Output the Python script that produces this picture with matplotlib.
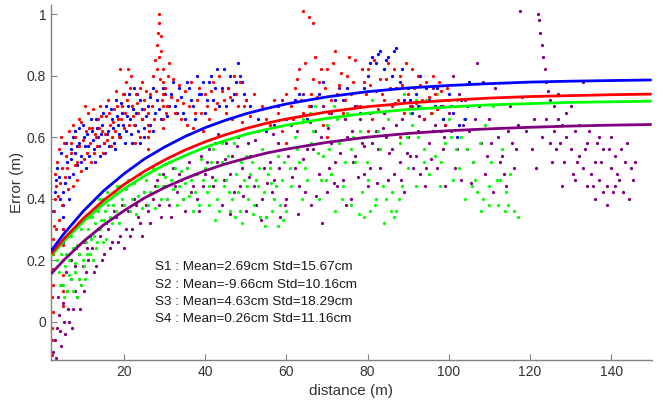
import matplotlib
matplotlib.use("Agg")
import matplotlib.pyplot as plt

# ---------------- data ----------------
curve_x = [2, 5, 10, 15, 20, 25, 30, 35, 40, 45, 50, 55, 60, 70, 80, 90, 100, 110, 120, 130, 140, 150]
fit_blue = [0.230, 0.283, 0.360, 0.426, 0.481, 0.529, 0.568, 0.602, 0.631, 0.655, 0.676, 0.693, 0.708, 0.731, 0.748, 0.760, 0.768, 0.774, 0.779, 0.782, 0.784, 0.786]
fit_red = [0.220, 0.267, 0.336, 0.395, 0.446, 0.489, 0.526, 0.558, 0.585, 0.608, 0.628, 0.645, 0.659, 0.682, 0.699, 0.711, 0.720, 0.727, 0.732, 0.735, 0.738, 0.740]
fit_green = [0.213, 0.259, 0.326, 0.383, 0.432, 0.474, 0.510, 0.540, 0.567, 0.589, 0.609, 0.625, 0.639, 0.661, 0.678, 0.690, 0.698, 0.705, 0.709, 0.713, 0.715, 0.717]
fit_purple = [0.155, 0.198, 0.261, 0.315, 0.361, 0.402, 0.436, 0.465, 0.491, 0.513, 0.531, 0.548, 0.561, 0.583, 0.600, 0.612, 0.621, 0.627, 0.632, 0.636, 0.639, 0.641]

red_pts = [
    (2.2, -0.11), (2.3, -0.06), (2.2, -0.02), (2.4, 0.03), (2.3, 0.08), (2.5, 0.12), (2.4, 0.17), (2.6, 0.22),
    (2.5, 0.27), (2.8, 0.31), (2.7, 0.36), (3.0, 0.40), (3.2, 0.44), (2.9, 0.48),
    (3.5, 0.52), (4.0, 0.33), (4.3, 0.45), (4.8, 0.38), (5.2, 0.58), (5.5, 0.47), (6.0, 0.50), (6.5, 0.62),
    (7.0, 0.55), (7.5, 0.44), (8.0, 0.60), (8.5, 0.52),
    (5.0, 0.05), (5.0, 0.10), (5.0, 0.15), (5.0, 0.20), (5.0, 0.25), (5.0, 0.30),
    (9, 0.57), (9.5, 0.65), (10, 0.53), (10.5, 0.62), (11, 0.68), (11.5, 0.58), (12, 0.63), (12.5, 0.55),
    (13, 0.60), (13.5, 0.66), (14, 0.70), (14.5, 0.62), (15, 0.58), (15.5, 0.67), (16, 0.72), (16.5, 0.64),
    (17, 0.60), (17.5, 0.69), (18, 0.75), (18.5, 0.66), (19, 0.82), (19.5, 0.70), (20, 0.63), (20.5, 0.78),
    (21, 0.82), (21.5, 0.76), (22, 0.70), (22.5, 0.64), (23, 0.74), (23.5, 0.68), (24, 0.60), (24.5, 0.78),
    (25, 0.72), (25.8, 0.56), (25.8, 0.60), (25.8, 0.64), (25.8, 0.68), (26.5, 0.74), (27, 0.80), (27.5, 0.85),
    (28, 0.90), (28.3, 0.94), (28.5, 0.97), (28.7, 1.00), (29.2, 0.88), (29.5, 0.82), (29.6, 0.78), (29.6, 0.74),
    (29.6, 0.70), (29.6, 0.66), (29.6, 0.63), (30, 0.76), (30.5, 0.70),
    (31, 0.84), (32, 0.79), (33, 0.72), (34, 0.66), (35, 0.75), (36, 0.70), (37, 0.63), (38, 0.72),
    (39, 0.68), (40, 0.74), (41, 0.66), (42, 0.78), (43, 0.71), (44, 0.75), (45, 0.68), (46, 0.73),
    (47, 0.80), (48, 0.70), (49, 0.65), (50, 0.72),
    (55, 0.66), (57, 0.72), (59, 0.62), (61, 0.70), (62, 0.76), (63, 0.82), (64, 1.01), (65.5, 0.99),
    (66.6, 0.97), (64, 0.68), (66, 0.74), (67, 0.86), (68, 0.78), (69, 0.64), (70, 0.82), (71, 0.72),
    (72, 0.88), (73, 0.77), (74, 0.68), (75, 0.80), (76, 0.74), (77, 0.85), (78, 0.70), (79, 0.78),
    (80, 0.82), (81, 0.66), (82, 0.75), (83, 0.79), (84, 0.72), (85, 0.84), (86, 0.70), (87, 0.76),
    (88, 0.80), (89, 0.68), (90, 0.74), (91, 0.82), (92, 0.71), (93, 0.77), (94, 0.66), (95, 0.73),
    (96, 0.80), (97, 0.69), (98, 0.75), (99, 0.64), (100, 0.72),
    (60, 0.58), (70, 0.60), (80, 0.62), (88, 0.60),
    (3.2, 0.30), (3.6, 0.41), (3.9, 0.56), (4.4, 0.60), (4.7, 0.50), (5.6, 0.54), (6.2, 0.43), (6.8, 0.58),
    (7.3, 0.64), (7.8, 0.51), (8.3, 0.46), (8.8, 0.66), (9.3, 0.49), (9.8, 0.59), (10.3, 0.70), (10.8, 0.55),
    (11.3, 0.63), (11.8, 0.52), (12.3, 0.69), (12.8, 0.61), (13.3, 0.57), (13.8, 0.63), (14.3, 0.67), (14.8, 0.55),
    (15.3, 0.61), (15.8, 0.59), (16.3, 0.68), (16.8, 0.57), (17.3, 0.65), (17.8, 0.62), (18.3, 0.70), (18.8, 0.60),
    (19.3, 0.66), (19.8, 0.74), (20.3, 0.68), (20.8, 0.72), (21.3, 0.64), (21.8, 0.80), (22.3, 0.67), (22.8, 0.58),
    (23.3, 0.71), (23.8, 0.76), (24.3, 0.66), (24.8, 0.69), (25.3, 0.75), (26.2, 0.62), (26.8, 0.70), (27.3, 0.66),
    (27.8, 0.75), (28.2, 0.82), (28.6, 0.86), (28.9, 0.79), (29.0, 0.93), (29.4, 0.72), (30.2, 0.68), (30.8, 0.80),
    (31.5, 0.73), (32.5, 0.68), (33.5, 0.77), (34.5, 0.71), (35.5, 0.64), (36.5, 0.78), (37.5, 0.68), (38.5, 0.76),
    (39.5, 0.62), (40.5, 0.70), (41.5, 0.75), (42.5, 0.69), (43.5, 0.80), (44.5, 0.72), (45.5, 0.76), (46.5, 0.66),
    (47.5, 0.74), (48.5, 0.78), (49.5, 0.70), (51, 0.67), (52, 0.74), (53, 0.62), (54, 0.70), (56, 0.64),
    (58, 0.68), (60, 0.74), (61.5, 0.66), (62.5, 0.79), (63.5, 0.72), (64.5, 0.84), (65.5, 0.70), (66.5, 0.79),
    (67.5, 0.73), (68.5, 0.82), (69.5, 0.76), (70.5, 0.68), (71.5, 0.84), (72.5, 0.74), (73.5, 0.81), (74.5, 0.72),
    (75.5, 0.86), (76.5, 0.78), (77.5, 0.70), (78.5, 0.82), (79.5, 0.74), (80.5, 0.77), (81.5, 0.85), (82.5, 0.69),
    (83.5, 0.74), (84.5, 0.79), (85.5, 0.76), (86.5, 0.82), (87.5, 0.72), (88.5, 0.77), (89.5, 0.84), (90.5, 0.70),
    (91.5, 0.76), (92.5, 0.80), (93.5, 0.72), (94.5, 0.78), (95.5, 0.68), (96.5, 0.74), (97.5, 0.78), (98.5, 0.70),
    (99.5, 0.76),
]

blue_pts = [
    (2.5, 0.36), (3, 0.42), (3.5, 0.50), (4, 0.47), (4.5, 0.55), (5, 0.26), (5, 0.30), (5, 0.34),
    (5, 0.38), (5, 0.42), (5.5, 0.45), (6, 0.52), (6.5, 0.40), (7, 0.56), (7.5, 0.48), (8, 0.62),
    (8.5, 0.51), (9, 0.58), (9.5, 0.54), (10, 0.60), (10.5, 0.50), (11, 0.57),
    (12, 0.62), (12.5, 0.56), (13, 0.66), (13.5, 0.60), (14, 0.54), (14.5, 0.64), (15, 0.58), (15.5, 0.70),
    (16, 0.62), (17, 0.66), (17.5, 0.58), (18, 0.72), (18.5, 0.64), (19, 0.60), (19.5, 0.68), (20, 0.74),
    (20.5, 0.62), (21, 0.70), (21.5, 0.66), (22, 0.58), (22.5, 0.76), (23, 0.68), (23.5, 0.62), (24, 0.72),
    (24.5, 0.66), (25, 0.60), (26, 0.70), (26.5, 0.64), (27, 0.76), (27.5, 0.68), (28, 0.72), (29, 0.66),
    (30, 0.74), (31, 0.70), (32, 0.78), (33, 0.68), (34, 0.73), (35, 0.66), (36, 0.76), (37, 0.70),
    (38, 0.80), (39, 0.74), (40, 0.68), (41, 0.78), (42, 0.72), (43, 0.82), (44, 0.76), (45, 0.70),
    (46, 0.80), (47, 0.74), (48, 0.84), (49, 0.78), (50, 0.72),
    (55, 0.62), (58, 0.70), (60, 0.66), (63, 0.74), (66, 0.70), (69, 0.78), (72, 0.72), (75, 0.76),
    (78, 0.68), (80, 0.80), (81, 0.86), (82, 0.84), (83, 0.88), (84, 0.82), (85, 0.86), (86, 0.80),
    (87, 0.89), (88, 0.78), (89, 0.72), (90, 0.76), (91, 0.68), (92, 0.74), (93, 0.80), (94, 0.66),
    (95, 0.72), (96, 0.62), (97, 0.76), (98, 0.70), (99, 0.64), (100, 0.74), (101, 0.68), (102, 0.60),
    (103, 0.72), (104, 0.66), (105, 0.78),
    (3.2, 0.46), (4.2, 0.40), (5.8, 0.58), (6.3, 0.47), (6.8, 0.53), (7.3, 0.60), (7.8, 0.55), (8.3, 0.57),
    (8.8, 0.63), (9.3, 0.52), (9.8, 0.64), (10.3, 0.57), (10.8, 0.61), (11.3, 0.54), (11.8, 0.66), (12.3, 0.59),
    (12.8, 0.52), (13.3, 0.63), (13.8, 0.57), (14.3, 0.61), (14.8, 0.68), (15.3, 0.55), (15.8, 0.61), (16.3, 0.57),
    (16.8, 0.69), (17.3, 0.63), (17.8, 0.56), (18.3, 0.67), (18.8, 0.61), (19.3, 0.71), (19.8, 0.64), (20.3, 0.58),
    (20.8, 0.67), (21.3, 0.74), (21.8, 0.61), (22.3, 0.69), (22.8, 0.64), (23.3, 0.74), (23.8, 0.58), (24.3, 0.69),
    (24.8, 0.63), (25.5, 0.67), (26.3, 0.73), (27.2, 0.62), (28.5, 0.69), (29.5, 0.76), (30.5, 0.67), (31.5, 0.74),
    (32.5, 0.70), (33.5, 0.76), (34.5, 0.68), (35.5, 0.78), (36.5, 0.72), (37.5, 0.66), (38.5, 0.74), (39.5, 0.78),
    (40.5, 0.72), (41.5, 0.80), (42.5, 0.76), (43.5, 0.70), (44.5, 0.82), (45.5, 0.76), (46.5, 0.72), (47.5, 0.78),
    (48.5, 0.80), (49.5, 0.74), (51, 0.70), (53, 0.66), (57, 0.64), (62, 0.72), (65, 0.66), (68, 0.74),
    (71, 0.68), (74, 0.72), (77, 0.70), (79, 0.76), (80.5, 0.84), (82.5, 0.87), (84.5, 0.85), (86.5, 0.88),
    (88.5, 0.82), (90.5, 0.72), (92.5, 0.70), (94.5, 0.76), (96.5, 0.70), (98.5, 0.66), (100.5, 0.70), (102.5, 0.64),
    (104.5, 0.70),
]

green_pts = [
    (4, 0.16), (4.5, 0.22), (5, 0.12), (5.5, 0.18), (6, 0.10), (6.5, 0.20), (7, 0.14), (7.5, 0.24),
    (8, 0.16), (8.5, 0.08), (9, 0.22), (9.5, 0.12), (10, 0.18), (10.5, 0.26), (11, 0.30), (11.5, 0.22),
    (12, 0.34), (12.5, 0.28), (13, 0.24), (13.5, 0.36), (14, 0.30), (14.5, 0.40), (15, 0.33), (15.5, 0.27),
    (16, 0.38), (17, 0.32), (17.5, 0.42), (18, 0.36), (19, 0.44), (20, 0.38), (21, 0.46), (22, 0.40),
    (23, 0.35), (24, 0.48), (25, 0.42), (26, 0.38), (27, 0.50), (28, 0.44), (29, 0.40), (30, 0.47),
    (31, 0.52), (32, 0.43), (33, 0.38), (34, 0.49), (35, 0.45), (36, 0.41), (37, 0.36), (38, 0.48),
    (39, 0.53),
    (40, 0.50), (41, 0.44), (42, 0.56), (43, 0.40), (44, 0.52), (45, 0.46), (46, 0.36), (47, 0.58),
    (48, 0.42), (49, 0.32), (50, 0.54), (51, 0.48), (52, 0.38), (53, 0.44), (54, 0.56), (55, 0.34),
    (56, 0.50), (57, 0.40), (58, 0.31), (59, 0.46), (60, 0.36), (62, 0.60), (63, 0.52), (64, 0.66),
    (65, 0.46), (66, 0.58), (67, 0.70), (68, 0.40), (69, 0.54), (70, 0.64), (71, 0.48), (72, 0.36),
    (73, 0.58), (74, 0.44), (75, 0.68), (76, 0.38), (77, 0.52), (78, 0.62), (79, 0.34), (80, 0.46),
    (81, 0.72), (82, 0.40), (83, 0.56), (84, 0.32), (85, 0.66), (86, 0.42), (87, 0.36), (88, 0.58),
    (89, 0.74), (90, 0.50), (91, 0.64), (92, 0.44), (93, 0.70), (94, 0.56), (95, 0.48), (96, 0.62),
    (97, 0.74), (98, 0.52), (99, 0.58), (100, 0.66), (101, 0.46), (102, 0.72), (103, 0.60), (104, 0.40),
    (105, 0.78), (106, 0.52), (107, 0.42), (108, 0.36), (109, 0.64), (110, 0.44), (111, 0.70), (112, 0.38),
    (113, 0.56), (114, 0.42), (115, 0.48), (116, 0.36), (117, 0.34),
    (3.5, 0.20), (4.2, 0.12), (4.8, 0.26), (5.3, 0.08), (5.8, 0.22), (6.3, 0.15), (6.8, 0.28), (7.3, 0.10),
    (7.8, 0.19), (8.3, 0.25), (8.8, 0.14), (9.3, 0.30), (9.8, 0.20), (10.3, 0.14), (10.8, 0.22), (11.3, 0.34),
    (11.8, 0.27), (12.3, 0.20), (12.8, 0.32), (13.3, 0.26), (13.8, 0.40), (14.3, 0.33), (14.8, 0.26), (15.3, 0.36),
    (15.8, 0.42), (16.5, 0.34), (17.3, 0.38), (18.3, 0.44), (18.8, 0.32), (19.5, 0.40), (20.5, 0.43), (21.5, 0.36),
    (22.5, 0.45), (23.5, 0.41), (24.5, 0.37), (25.5, 0.46), (26.5, 0.42), (27.5, 0.37), (28.5, 0.48), (29.5, 0.44),
    (30.5, 0.40), (31.5, 0.46), (32.5, 0.50), (33.5, 0.44), (34.5, 0.40), (35.5, 0.50), (36.5, 0.46), (37.5, 0.42),
    (38.5, 0.38), (39.5, 0.46), (40.5, 0.42), (41.5, 0.52), (42.5, 0.46), (43.5, 0.36), (44.5, 0.44), (45.5, 0.54),
    (46.5, 0.40), (47.5, 0.48), (48.5, 0.36), (49.5, 0.46), (50.5, 0.40), (51.5, 0.52), (52.5, 0.46), (53.5, 0.34),
    (54.5, 0.42), (55.5, 0.48), (56.5, 0.36), (57.5, 0.44), (58.5, 0.38), (59.5, 0.52), (61, 0.44), (62.5, 0.56),
    (64.5, 0.50), (66.5, 0.62), (68.5, 0.46), (70.5, 0.56), (72.5, 0.66), (74.5, 0.52), (76.5, 0.60), (78.5, 0.42),
    (80.5, 0.36), (82.5, 0.62), (84.5, 0.40), (86.5, 0.34), (88.5, 0.44), (90.5, 0.68), (92.5, 0.60), (94.5, 0.72),
    (96.5, 0.54), (98.5, 0.66), (100.5, 0.60), (102.5, 0.50), (104.5, 0.56), (106.5, 0.46), (108.5, 0.40), (110.5, 0.52),
    (112.5, 0.46), (114.5, 0.38),
    (40.8, 0.38), (42.3, 0.33), (44.2, 0.58), (45.8, 0.42), (47.3, 0.34), (48.8, 0.52), (50.2, 0.44), (51.8, 0.35),
    (53.2, 0.50), (54.8, 0.31), (56.2, 0.45), (57.8, 0.54), (59.2, 0.33), (60.8, 0.50), (63.8, 0.40), (65.8, 0.68),
    (67.8, 0.55), (69.8, 0.46), (71.8, 0.70), (73.8, 0.40), (75.8, 0.56), (77.8, 0.35), (79.8, 0.52), (81.8, 0.38),
    (83.8, 0.44), (85.8, 0.36), (87.8, 0.40), (89.8, 0.60), (91.8, 0.72), (93.8, 0.52), (95.8, 0.68), (97.8, 0.44),
    (99.8, 0.72), (101.8, 0.56), (103.8, 0.66), (105.8, 0.44), (107.8, 0.58), (109.8, 0.38), (111.8, 0.46), (113.8, 0.36),
]

purple_pts = [
    (2.5, -0.10), (3, -0.06), (3.5, -0.02), (4, 0.02), (4.5, -0.08), (5, 0.06), (5.5, -0.04), (6, 0.10),
    (6.5, 0.00), (7, 0.14), (7.5, 0.04), (8, 0.18), (8.5, 0.08), (9, 0.22), (9.5, 0.12), (10, 0.26),
    (10.5, 0.16), (11, 0.20), (12, 0.24), (13, 0.18), (14, 0.28), (15, 0.22), (16, 0.30), (17, 0.26),
    (18, 0.34), (19, 0.28), (20, 0.24), (21, 0.36), (22, 0.30), (23, 0.38), (24, 0.32), (25, 0.42),
    (26, 0.36), (27, 0.40), (28, 0.46), (29, 0.34), (30, 0.44), (31, 0.38), (32, 0.50), (33, 0.42),
    (34, 0.46), (35, 0.36), (36, 0.52), (37, 0.44), (38, 0.40), (39, 0.54), (40, 0.48),
    (41, 0.56), (42, 0.44), (43, 0.52), (44, 0.38), (45, 0.58), (46, 0.48), (47, 0.42), (48, 0.60),
    (49, 0.50), (50, 0.36), (51, 0.54), (52, 0.44), (53, 0.62), (54, 0.40), (55, 0.34), (56, 0.52),
    (57, 0.46), (58, 0.58), (59, 0.72), (60, 0.40), (61, 0.64), (62, 0.50), (63, 0.44), (64, 0.74),
    (65, 0.56), (66, 0.38), (67, 0.62), (68, 0.48), (69, 0.70), (70, 0.42), (71, 0.58), (72, 0.52),
    (73, 0.76), (74, 0.46), (75, 0.60), (76, 0.40), (77, 0.54), (78, 0.66), (79, 0.48), (80, 0.44),
    (81, 0.58), (82, 0.62), (83, 0.50), (84, 0.68), (85, 0.46), (86, 0.56), (87, 0.64), (88, 0.52),
    (89, 0.42), (90, 0.60), (91, 0.70), (92, 0.54), (93, 0.48), (94, 0.66), (95, 0.58), (96, 0.76),
    (97, 0.50), (98, 0.62), (99, 0.44), (100, 0.68), (101, 0.80), (102, 0.56), (103, 0.46), (104, 0.72),
    (105, 0.62), (106, 0.52), (107, 0.84), (108, 0.58), (109, 0.48), (110, 0.66), (111, 0.42), (112, 0.60),
    (113, 0.54), (114, 0.44), (115, 0.70), (116, 0.50), (117, 0.64), (117.5, 1.01),
    (122, 1.00), (122.3, 0.98), (122.5, 0.94), (123, 0.90), (123.3, 0.86), (123.6, 0.82), (124, 0.78), (124.5, 0.75),
    (125, 0.72), (126, 0.70), (127, 0.66), (126, 0.62), (125, 0.58), (128, 0.64), (129, 0.60), (130, 0.56),
    (131, 0.62), (132, 0.54), (133, 0.50), (134, 0.58), (135, 0.48), (136, 0.52), (137, 0.46), (138, 0.56),
    (139, 0.44), (140, 0.50), (141, 0.54), (142, 0.46), (143, 0.42), (144, 0.58), (145, 0.50), (146, 0.52),
    (121, 0.66), (120.5, 0.56), (127, 0.74), (130, 0.70), (132, 0.64), (118, 0.73), (136, 0.40), (138, 0.42),
    (141, 0.44), (133, 0.78), (140, 0.60),
    (3.2, -0.12), (3.8, 0.08), (4.2, -0.03), (4.8, 0.12), (5.2, 0.00), (5.8, 0.16), (6.2, 0.04), (6.8, 0.20),
    (7.2, -0.02), (7.8, 0.10), (8.2, 0.24), (8.8, 0.14), (9.2, 0.04), (9.8, 0.18), (10.2, 0.10), (10.8, 0.24),
    (11.5, 0.28), (12.5, 0.16), (13.5, 0.30), (14.5, 0.20), (15.5, 0.32), (16.5, 0.24), (17.5, 0.36), (18.5, 0.26),
    (19.5, 0.38), (20.5, 0.30), (21.5, 0.28), (22.5, 0.40), (23.5, 0.34), (24.5, 0.28), (25.5, 0.38), (26.5, 0.32),
    (27.5, 0.44), (28.5, 0.38), (29.5, 0.48), (30.5, 0.40), (31.5, 0.34), (32.5, 0.44), (33.5, 0.48), (34.5, 0.40),
    (35.5, 0.50), (36.5, 0.42), (37.5, 0.48), (38.5, 0.36), (39.5, 0.44), (40.5, 0.52), (42.5, 0.58), (44.5, 0.46),
    (46.5, 0.54), (48.5, 0.44), (50.5, 0.58), (52.5, 0.38), (54.5, 0.50), (56.5, 0.42), (58.5, 0.34), (60.5, 0.54),
    (62.5, 0.62), (64.5, 0.42), (66.5, 0.56), (68.5, 0.60), (70.5, 0.50), (72.5, 0.44), (74.5, 0.66), (76.5, 0.52),
    (78.5, 0.58), (80.5, 0.50), (82.5, 0.56), (84.5, 0.60), (86.5, 0.48), (88.5, 0.66), (90.5, 0.54), (92.5, 0.62),
    (94.5, 0.50), (96.5, 0.64), (98.5, 0.56), (100.5, 0.62), (102.5, 0.74), (104.5, 0.56), (106.5, 0.66), (108.5, 0.78),
    (110.5, 0.58), (112.5, 0.52), (114.5, 0.62), (116.5, 0.56), (124, 0.66), (126.5, 0.56), (128.5, 0.52), (130.5, 0.48),
    (133.5, 0.56), (135.5, 0.44), (137.5, 0.52), (139.5, 0.56), (141.5, 0.48), (143.5, 0.52), (145.5, 0.46), (129, 0.68),
    (131.5, 0.52), (134.5, 0.62), (136.5, 0.58),
    (41.7, 0.47), (43.2, 0.61), (44.8, 0.53), (46.2, 0.35), (47.8, 0.57), (49.3, 0.41), (50.8, 0.47), (52.2, 0.59),
    (53.7, 0.33), (55.2, 0.45), (56.8, 0.61), (58.2, 0.50), (59.7, 0.38), (61.3, 0.47), (62.8, 0.35), (64.2, 0.53),
    (65.7, 0.65), (67.2, 0.41), (68.7, 0.32), (70.2, 0.63), (71.7, 0.45), (73.2, 0.55), (74.7, 0.38), (76.2, 0.62),
    (77.7, 0.47), (79.2, 0.57), (80.7, 0.68), (82.2, 0.45), (83.7, 0.63), (85.2, 0.55), (86.7, 0.71), (88.2, 0.46),
    (89.7, 0.55), (91.2, 0.50), (92.7, 0.67), (94.2, 0.44), (95.7, 0.53), (97.2, 0.69), (98.7, 0.60), (101.5, 0.50),
    (103.5, 0.64), (105.5, 0.45), (107.5, 0.70), (109.5, 0.54), (111.5, 0.76), (113.5, 0.48), (115.5, 0.58), (119, 0.62),
    (121.5, 0.50), (123, 0.60), (125.5, 0.52), (127.5, 0.58), (131, 0.46), (134, 0.44), (137, 0.60), (140.5, 0.42),
    (142.5, 0.56), (144.5, 0.40), (139, 0.38), (128, 0.44),
]

stats_lines = [
    "S1 : Mean=2.69cm Std=15.67cm",
    "S2 : Mean=-9.66cm Std=10.16cm",
    "S3 : Mean=4.63cm Std=18.29cm",
    "S4 : Mean=0.26cm Std=11.16cm",
]
x_ticks = [20, 40, 60, 80, 100, 120, 140]
y_ticks = [0, 0.2, 0.4, 0.6, 0.8, 1.0]
y_ticklabels = ["0", "0.2", "0.4", "0.6", "0.8", "1"]

# ---------------- style ----------------
plt.rcParams['font.family'] = ['Liberation Sans', 'DejaVu Sans']
BLUE = '#0000ff'
RED = '#ff0000'
GREEN = '#00ff00'
PURPLE = '#800080'

fig = plt.figure(figsize=(6.63, 4.11), dpi=100)
ax = fig.add_axes([0.077, 0.124, 0.906, 0.864])

for pts, col in [(purple_pts, PURPLE), (green_pts, GREEN), (blue_pts, BLUE), (red_pts, RED)]:
    xs = [p[0] for p in pts]
    ys = [p[1] for p in pts]
    ax.scatter(xs, ys, s=5.5, c=col, linewidths=0, zorder=2)

for fit, col in [(fit_purple, PURPLE), (fit_green, GREEN), (fit_red, RED), (fit_blue, BLUE)]:
    ax.plot(curve_x, fit, color=col, lw=2.0, zorder=3, solid_capstyle='butt')

for i, s in enumerate(stats_lines):
    ax.text(27.6, 0.177 - i * 0.0565, s, fontsize=9.7, color='#1a1a1a', va='center', ha='left')

ax.set_xlim(2, 150)
ax.set_ylim(-0.125, 1.03)
ax.set_xticks(x_ticks)
ax.set_yticks(y_ticks)
ax.set_yticklabels(y_ticklabels)
ax.tick_params(direction='in', length=4, width=0.8, colors='#808080', labelcolor='#333333', labelsize=10)
for side in ['top', 'right']:
    ax.spines[side].set_visible(False)
for side in ['left', 'bottom']:
    ax.spines[side].set_color('#808080')
    ax.spines[side].set_linewidth(1.0)
ax.set_xlabel('distance (m)', fontsize=11, color='#333333', labelpad=4)
ax.set_ylabel('Error (m)', fontsize=11, color='#333333', labelpad=2)

fig.savefig('out.png', dpi=100)
